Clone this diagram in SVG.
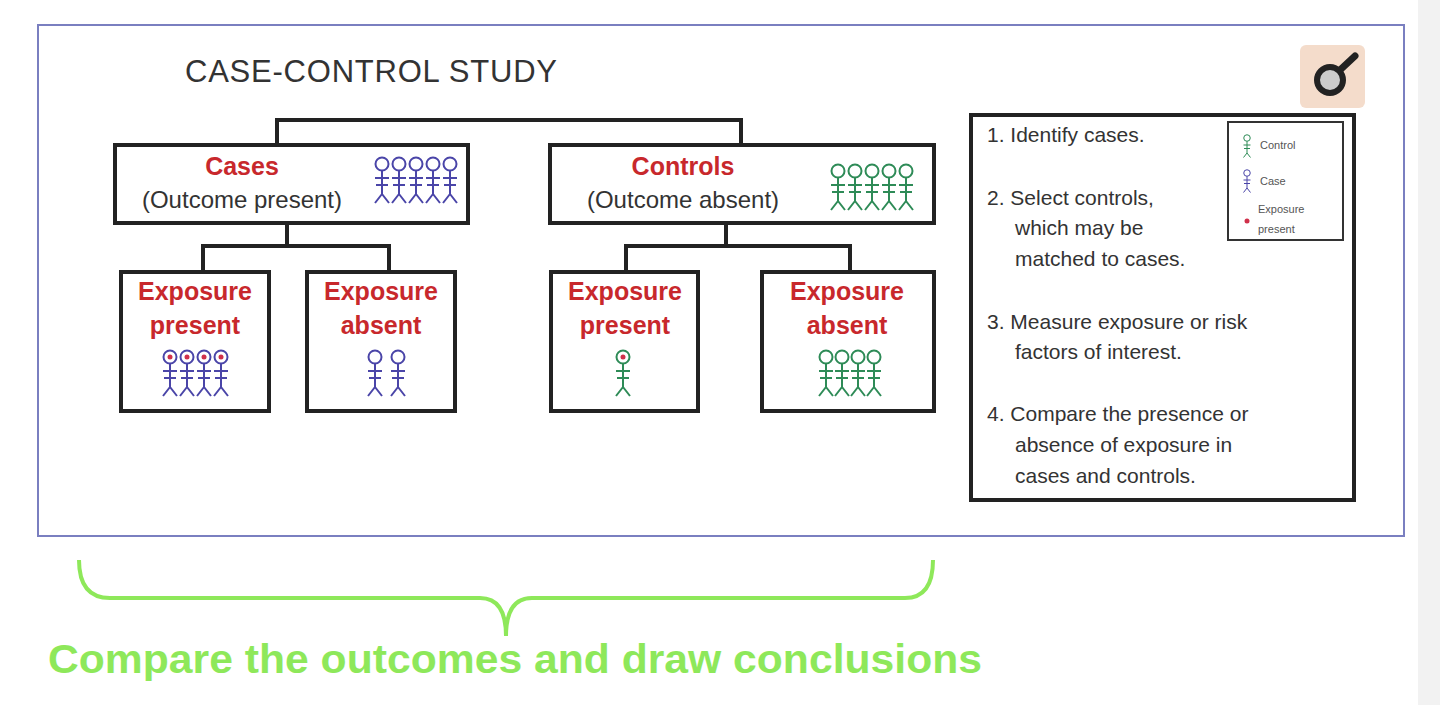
<svg xmlns="http://www.w3.org/2000/svg" xmlns:xlink="http://www.w3.org/1999/xlink" width="1440" height="705" viewBox="0 0 1440 705">
<style>
.box{fill:#fff;stroke:#222;stroke-width:4}
.ln{fill:none;stroke:#222;stroke-width:4}
.red{fill:#c8282c;font-family:"Liberation Sans",Arial,sans-serif;font-weight:bold;font-size:25px;text-anchor:middle}
.gr{fill:#333;font-family:"Liberation Sans",Arial,sans-serif;font-size:24px;text-anchor:middle}
.st{fill:#333;font-family:"Liberation Sans",Arial,sans-serif;font-size:21px}
.case{color:#4a45a8}
.ctrl{color:#2e8b57}
</style>
<defs>
<g id="fig" fill="none" stroke="currentColor" stroke-width="2">
<circle cx="0" cy="0" r="6.5"/>
<path d="M0 6.5V30M-7 14H7M-6 21H6M0 30L-7 39M0 30L7 39"/>
</g>
<g id="figx"><use href="#fig"/><circle cx="0" cy="0" r="2.5" fill="#d0304a"/></g>
</defs>
<rect width="1440" height="705" fill="#fff"/>
<rect x="1418" y="0" width="22" height="705" fill="#f2f2f2"/>
<rect x="38" y="25" width="1366" height="511" fill="#fff" stroke="#7a7fc0" stroke-width="2"/>
<text x="185" y="82" font-family="'Liberation Sans',Arial,sans-serif" font-size="31" fill="#333" textLength="372">CASE-CONTROL STUDY</text>
<g id="icon"><rect x="1300" y="45" width="65" height="63" rx="6" fill="#f4dccb"/><circle cx="1330" cy="80" r="13" fill="#ccc" stroke="#222" stroke-width="6"/><path d="M1340 70L1355 56" stroke="#222" stroke-width="7" stroke-linecap="round"/></g>
<g id="connectors">
<path class="ln" d="M277 145V120H741V145"/>
<path class="ln" d="M287 223V246M203 272V246H389V272"/>
<path class="ln" d="M726 223V246M626 272V246H850V272"/>
</g>
<g id="cases"><rect class="box" x="115" y="145" width="353" height="78"/>
<text class="red" x="242" y="175">Cases</text><text class="gr" x="242" y="208">(Outcome present)</text>
<g class="case"><use href="#fig" x="382" y="164"/><use href="#fig" x="399" y="164"/><use href="#fig" x="416" y="164"/><use href="#fig" x="433" y="164"/><use href="#fig" x="450" y="164"/></g></g>
<g id="controls"><rect class="box" x="550" y="145" width="384" height="78"/>
<text class="red" x="683" y="175">Controls</text><text class="gr" x="683" y="208">(Outcome absent)</text>
<g class="ctrl"><use href="#fig" x="838" y="171"/><use href="#fig" x="855" y="171"/><use href="#fig" x="872" y="171"/><use href="#fig" x="889" y="171"/><use href="#fig" x="906" y="171"/></g></g>
<g id="case-exp"><rect class="box" x="121" y="272" width="148" height="139"/>
<text class="red" x="195" y="300">Exposure</text><text class="red" x="195" y="334">present</text>
<g class="case"><use href="#figx" x="170" y="357"/><use href="#figx" x="187" y="357"/><use href="#figx" x="204" y="357"/><use href="#figx" x="221" y="357"/></g></g>
<g id="case-noexp"><rect class="box" x="307" y="272" width="148" height="139"/>
<text class="red" x="381" y="300">Exposure</text><text class="red" x="381" y="334">absent</text>
<g class="case"><use href="#fig" x="375" y="357"/><use href="#fig" x="398" y="357"/></g></g>
<g id="ctrl-exp"><rect class="box" x="551" y="272" width="147" height="139"/>
<text class="red" x="625" y="300">Exposure</text><text class="red" x="625" y="334">present</text>
<g class="ctrl"><use href="#figx" x="623" y="357"/></g></g>
<g id="ctrl-noexp"><rect class="box" x="762" y="272" width="172" height="139"/>
<text class="red" x="847" y="300">Exposure</text><text class="red" x="847" y="334">absent</text>
<g class="ctrl"><use href="#fig" x="826" y="357"/><use href="#fig" x="842" y="357"/><use href="#fig" x="858" y="357"/><use href="#fig" x="874" y="357"/></g></g>
<g id="steps"><rect class="box" x="971" y="115" width="383" height="385"/>
<text class="st" x="987" y="142">1. Identify cases.</text>
<text class="st" x="987" y="205">2. Select controls,</text><text class="st" x="1015" y="235">which may be</text><text class="st" x="1015" y="266">matched to cases.</text>
<text class="st" x="987" y="329">3. Measure exposure or risk</text><text class="st" x="1015" y="359">factors of interest.</text>
<text class="st" x="987" y="421">4. Compare the presence or</text><text class="st" x="1015" y="452">absence of exposure in</text><text class="st" x="1015" y="483">cases and controls.</text>
<g id="legend"><rect x="1228" y="122" width="115" height="118" fill="#fff" stroke="#333" stroke-width="2"/>
<g transform="translate(1247,138) scale(0.5)"><use href="#fig" class="ctrl"/></g>
<g transform="translate(1247,173) scale(0.5)"><use href="#fig" class="case"/></g>
<circle cx="1247" cy="221" r="2.5" fill="#d0304a"/>
<g font-family="'Liberation Sans',Arial,sans-serif" font-size="11" fill="#555"><text x="1260" y="149">Control</text><text x="1260" y="185">Case</text><text x="1258" y="213">Exposure</text><text x="1258" y="233">present</text></g></g></g>
<path d="M79 560Q79 598 110 598H480Q506 598 506 636Q506 598 532 598H905Q933 598 933 560" fill="none" stroke="#8ee85a" stroke-width="4"/>
<text x="48" y="673" font-family="'Liberation Sans',Arial,sans-serif" font-weight="bold" font-size="40" fill="#8ee85a" textLength="934" lengthAdjust="spacingAndGlyphs">Compare the outcomes and draw conclusions</text>
</svg>
